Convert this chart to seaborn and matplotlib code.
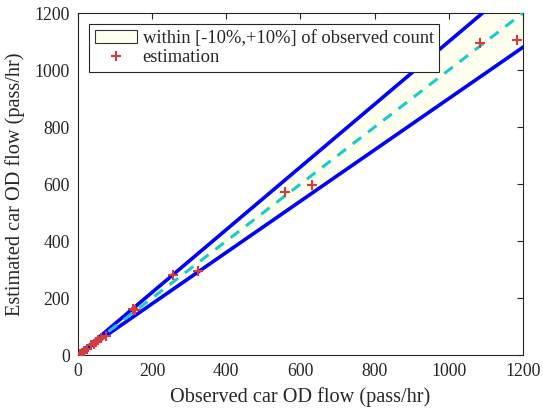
import numpy as np
import pandas as pd
import matplotlib
matplotlib.use("Agg")
import matplotlib.pyplot as plt
import seaborn as sns
from matplotlib.patches import Patch
from matplotlib.lines import Line2D

# Observed vs. estimated car OD flows (pass/hr)
observed = [5, 10, 15, 25, 35, 42, 48, 55, 62, 75, 148, 155, 255, 325, 558, 630, 1083, 1185]
estimated = [3, 8, 14, 20, 34, 40, 47, 52, 60, 68, 161, 157, 281, 295, 572, 598, 1095, 1105]

# Reference line and tolerance band
ref_x = [0, 1200, 1300]
band_low = 0.9
band_high = 1.1

axis_max = 1200
ticks = [0, 200, 400, 600, 800, 1000, 1200]

sns.set_style("white")
plt.rcParams["font.family"] = ["Liberation Serif", "DejaVu Serif"]
plt.rcParams["mathtext.fontset"] = "stix"

fig = plt.figure(figsize=(5.43, 4.16), dpi=100)
ax = fig.add_axes([0.1436, 0.1466, 0.8195, 0.822])

df_pts = pd.DataFrame({"obs": observed, "est": estimated})
line_df = pd.DataFrame({"x": ref_x})
line_df["low"] = line_df["x"] * band_low
line_df["high"] = line_df["x"] * band_high
line_df["mid"] = line_df["x"]

band_color = "#fffff0"
ax.fill_between(line_df["x"], line_df["low"], line_df["high"], color=band_color, zorder=1)

sns.lineplot(data=line_df, x="x", y="high", ax=ax, color="#0000ff", lw=2.6, zorder=3)
sns.lineplot(data=line_df, x="x", y="low", ax=ax, color="#0000ff", lw=2.6, zorder=3)
sns.lineplot(data=line_df, x="x", y="mid", ax=ax, color="#19cccc", lw=2.2,
             linestyle=(0, (3.5, 2.8)), zorder=3)

sns.scatterplot(data=df_pts, x="obs", y="est", ax=ax, marker="+", s=55,
                color="#d93a3a", linewidth=1.5, zorder=4)

ax.set_xlim(0, axis_max)
ax.set_ylim(0, axis_max)
ax.set_xticks(ticks)
ax.set_yticks(ticks)
ax.tick_params(direction="in", length=4, width=0.8, colors="#262626",
               top=True, right=True, labelsize=12.8, pad=6)
for lbl in ax.get_xticklabels() + ax.get_yticklabels():
    lbl.set_color("#262626")
for sp in ax.spines.values():
    sp.set_color("#262626")
    sp.set_linewidth(0.8)

ax.set_xlabel("Observed car OD flow (pass/hr)", fontsize=14.6, color="#262626", labelpad=5)
ax.set_ylabel("Estimated car OD flow (pass/hr)", fontsize=14.6, color="#262626", labelpad=7)

handles = [
    Patch(facecolor=band_color, edgecolor="#333333", linewidth=0.8),
    Line2D([], [], marker="+", linestyle="none", color="#d93a3a", markersize=7, mew=1.5),
]
labels = ["within [-10%,+10%] of observed count", "estimation"]
leg = ax.legend(handles, labels, loc="upper left", fontsize=13.3, frameon=True,
                fancybox=False, edgecolor="#262626", framealpha=1,
                borderpad=0.3, handlelength=2.3, handletextpad=0.3,
                labelspacing=0.15, borderaxespad=0.6)
leg.get_frame().set_linewidth(0.8)

fig.savefig("out.png", dpi=100)
